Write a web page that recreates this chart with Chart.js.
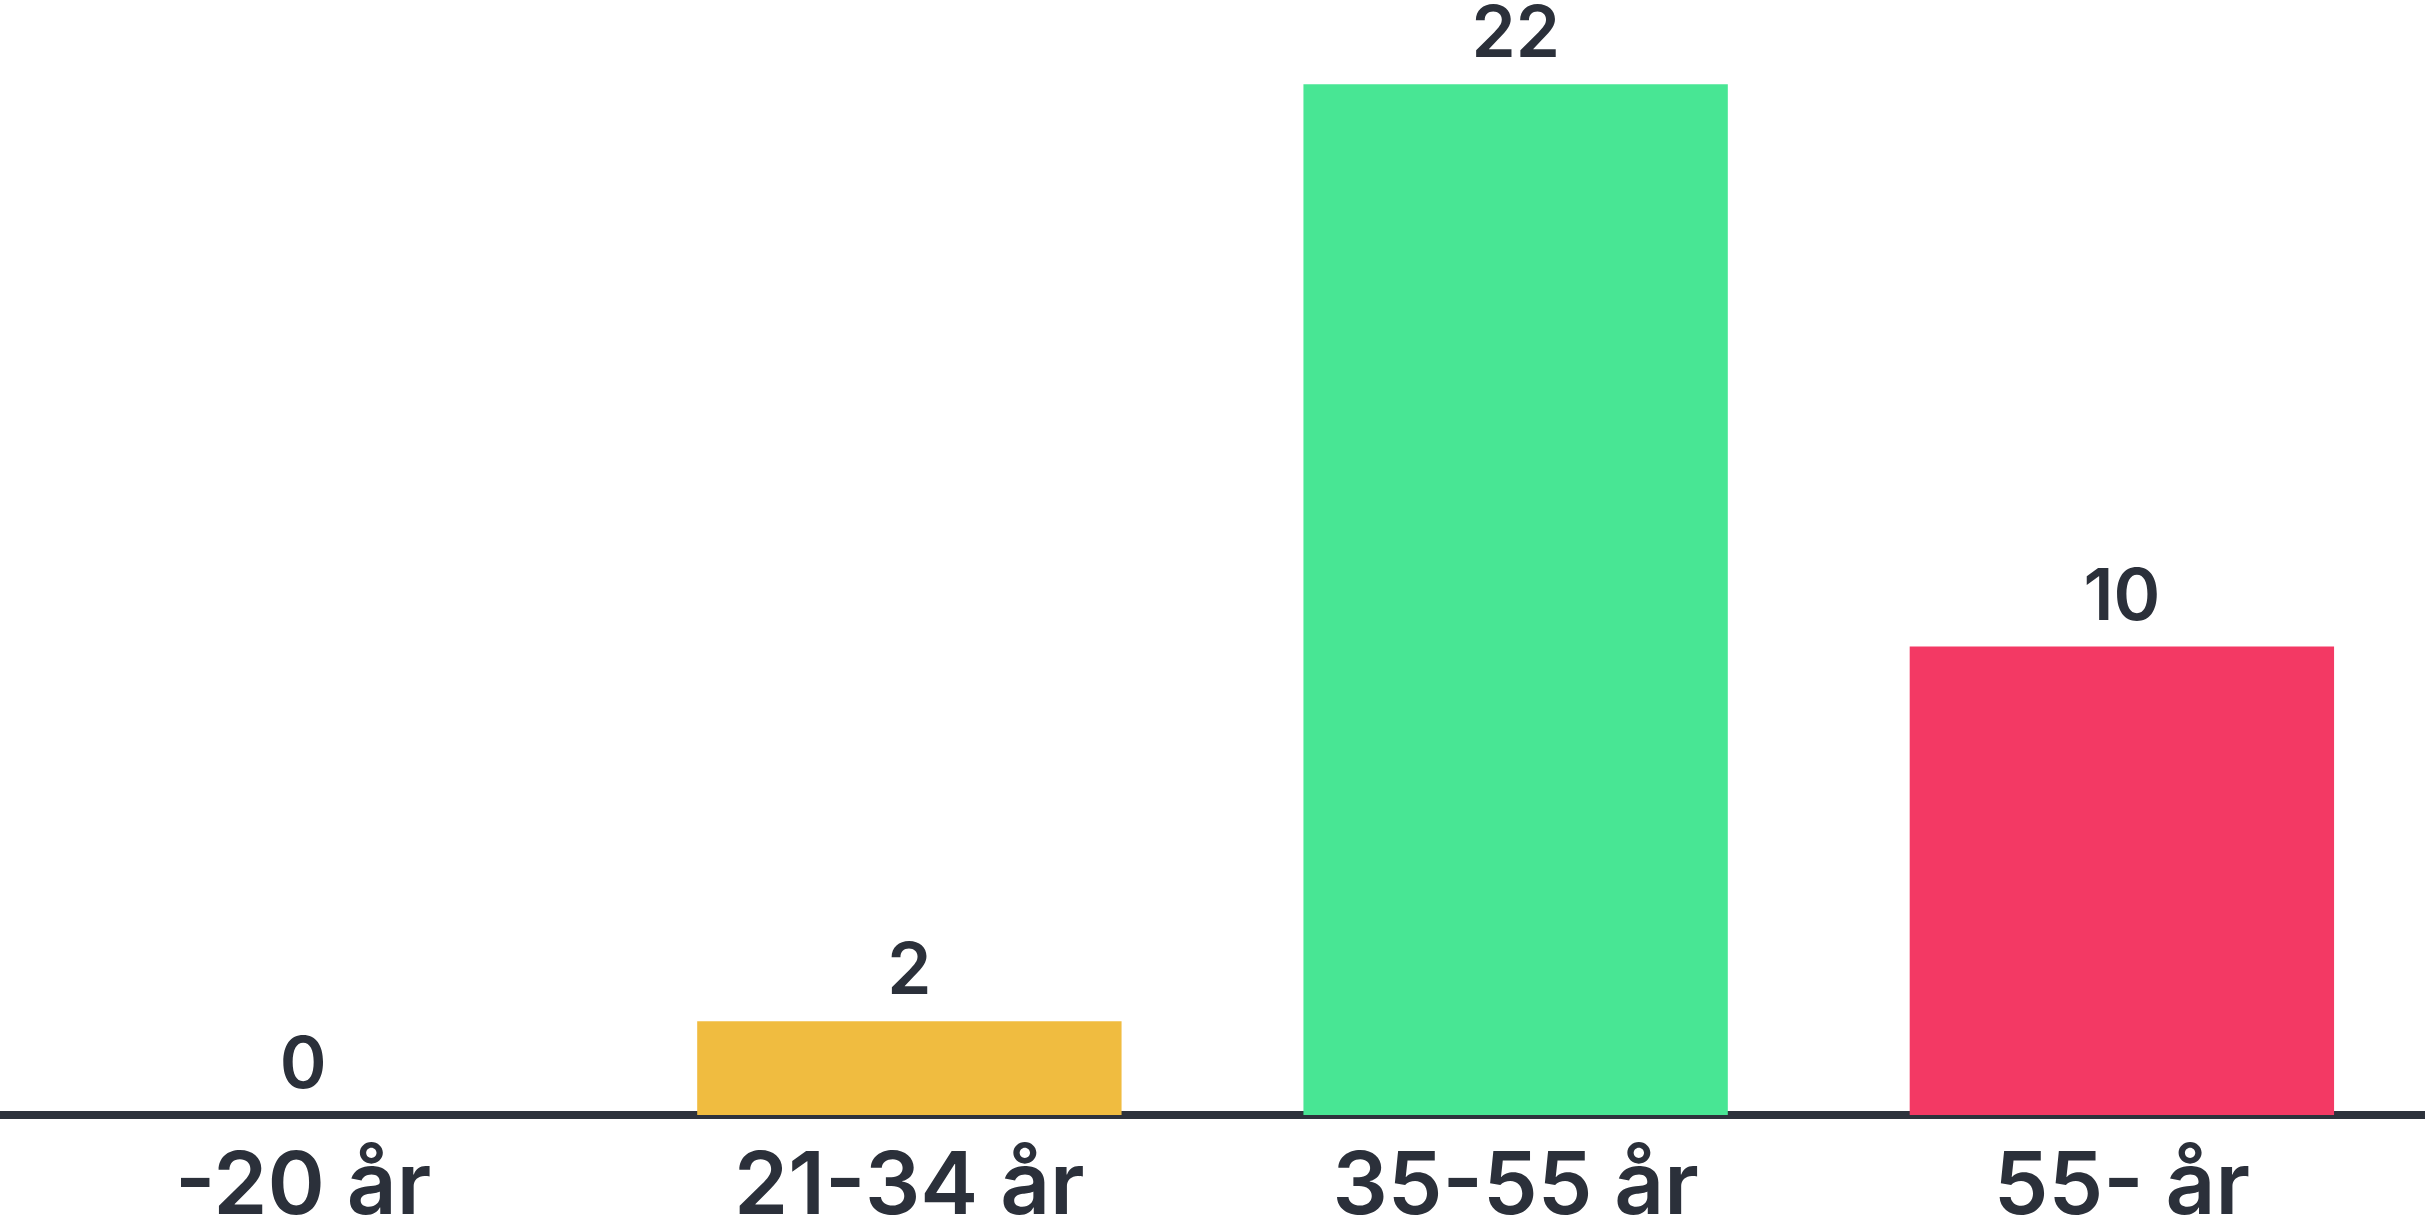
<!DOCTYPE html>
<html>
<head>
<meta charset="utf-8">
<script src="https://cdn.jsdelivr.net/npm/chart.js@4.4.1/dist/chart.umd.min.js"></script>
<style>
    html, body { margin: 0; padding: 0; background: #ffffff; }
    #wrap { width: 2425px; height: 1229px; }
</style>
</head>
<body>
<div id="wrap"><canvas id="barChart"></canvas></div>
<script>
const categories = ['-20 år', '21-34 år', '35-55 år', '55- år'];
const counts = [0, 2, 22, 10];
const barColors = ['#f0bc40', '#f0bc40', '#48e694', '#f33964'];

const textColor = '#2b303a';
const fontFamily = 'Inter, Lato, sans-serif';

// draws the number above each bar
const valueLabels = {
    id: 'valueLabels',
    afterDatasetsDraw(chart) {
        const ctx = chart.ctx;
        const meta = chart.getDatasetMeta(0);
        ctx.save();
        ctx.fillStyle = textColor;
        ctx.font = '600 71px ' + fontFamily;
        ctx.textAlign = 'center';
        ctx.textBaseline = 'alphabetic';
        meta.data.forEach((bar, i) => {
            ctx.fillText(String(counts[i]), bar.x, bar.y - 27);
        });
        ctx.restore();
    }
};

const ctx = document.getElementById('barChart').getContext('2d');

const barChart = new Chart(ctx, {
    type: 'bar',
    data: {
        labels: categories,
        datasets: [
            {
                data: counts,
                backgroundColor: barColors,
                borderWidth: 0,
                categoryPercentage: 1,
                barPercentage: 0.7
            }
        ]
    },
    options: {
        responsive: true,
        maintainAspectRatio: false,
        animation: false,
        layout: { padding: 0 },
        plugins: {
            legend: { display: false },
            tooltip: { enabled: false }
        },
        scales: {
            x: {
                z: 1,
                grid: { display: false, drawTicks: false },
                border: { display: true, color: '#2d323c', width: 8 },
                ticks: {
                    color: textColor,
                    padding: 29,
                    font: { family: fontFamily, size: 87, weight: '600', lineHeight: 1 }
                },
                afterFit(scale) {
                    scale.height = 114;
                }
            },
            y: {
                display: false,
                min: 0,
                max: 23.8
            }
        }
    },
    plugins: [valueLabels]
});
</script>
</body>
</html>
